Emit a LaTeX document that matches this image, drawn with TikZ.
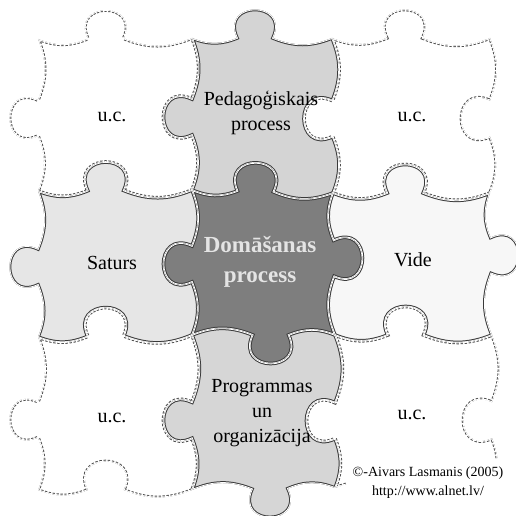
\documentclass[tikz,border=0pt]{standalone}
\usepackage{fontspec}
\setmainfont{Liberation Serif}
\usetikzlibrary{calc}
\definecolor{pzline}{HTML}{3A3A3A}
\definecolor{pzdash}{HTML}{505050}
\definecolor{fillPed}{HTML}{D4D4D4}
\definecolor{fillSat}{HTML}{E6E6E6}
\definecolor{fillCen}{HTML}{7E7E7E}
\definecolor{fillVid}{HTML}{F7F7F7}
\definecolor{fillPrg}{HTML}{D6D6D6}
\definecolor{txtCen}{HTML}{E4E4E4}
\def\sh{22}
\tikzset{
 eL/.style n args={3}{insert path={to[bend right=\sh] ($(#1)!#3!(#2)!18pt!(#1)$) to[out=115,in=65,relative,distance=42pt] ($(#1)!#3!(#2)!18pt!(#2)$) to[bend right=\sh] (#2)}},
 eR/.style n args={3}{insert path={to[bend left=\sh] ($(#1)!#3!(#2)!18pt!(#1)$) to[out=-115,in=-65,relative,distance=42pt] ($(#1)!#3!(#2)!18pt!(#2)$) to[bend left=\sh] (#2)}},
 eLr/.style n args={3}{insert path={to[bend left=\sh] ($(#1)!#3!(#2)!18pt!(#2)$) to[out=-115,in=-65,relative,distance=42pt] ($(#1)!#3!(#2)!18pt!(#1)$) to[bend left=\sh] (#1)}},
 eRr/.style n args={3}{insert path={to[bend right=\sh] ($(#1)!#3!(#2)!18pt!(#2)$) to[out=115,in=65,relative,distance=42pt] ($(#1)!#3!(#2)!18pt!(#1)$) to[bend right=\sh] (#1)}},
 solidline/.style={draw=pzline},
 dashline/.style={draw=pzdash, dash pattern=on 2.4pt off 1.6pt},
 lbl/.style={font=\fontsize{20}{25}\selectfont, align=center, text=black},
}
\newcommand\PzA{(c00) [eL={c00}{c10}{.44}] [eR={c10}{c11}{.52}] [eLr={c01}{c11}{.44}] [eRr={c00}{c01}{.52}] -- cycle}
\newcommand\PzB{(c10) [eL={c10}{c20}{.45}] [eR={c20}{c21}{.52}] [eLr={c11}{c21}{.45}] [eRr={c10}{c11}{.52}] -- cycle}
\newcommand\PzC{(c20) [eL={c20}{c30}{.46}] [eR={c30}{c31}{.52}] [eLr={c21}{c31}{.46}] [eRr={c20}{c21}{.52}] -- cycle}
\newcommand\PzD{(c01) [eL={c01}{c11}{.44}] [eR={c11}{c12}{.51}] [eLr={c02}{c12}{.44}] [eRr={c01}{c02}{.52}] -- cycle}
\newcommand\PzE{(c11) [eL={c11}{c21}{.45}] [eL={c21}{c22}{.46}] [eRr={c12}{c22}{.55}] [eRr={c11}{c12}{.51}] -- cycle}
\newcommand\PzF{(c21) [eL={c21}{c31}{.46}] [eL={c31}{c32}{.44}] [eLr={c22}{c32}{.45}] [eLr={c21}{c22}{.46}] -- cycle}
\newcommand\PzG{(c02) [eL={c02}{c12}{.44}] [eR={c12}{c13}{.55}] [eLr={c03}{c13}{.44}] [eRr={c02}{c03}{.54}] -- cycle}
\newcommand\PzH{(c12) [eR={c12}{c22}{.55}] [eR={c22}{c23}{.56}] [eRr={c13}{c23}{.545}] [eRr={c12}{c13}{.55}] -- cycle}
\newcommand\PzI{(c22) [eL={c22}{c32}{.45}] [eR={c32}{c33}{.55}] [eRr={c23}{c33}{.45}] [eRr={c22}{c23}{.56}] -- cycle}
\newcommand\PzDraw[3]{%
 \begin{scope}
 \clip #1;
 \fill[#2] #1;
 \path[#3, line width=3.6pt] #1;
 \draw[white, line width=1.6pt] #1;
 \end{scope}}
\begin{document}
\begin{tikzpicture}[x=1pt,y=1pt]
\useasboundingbox (0,0) rectangle (515,516);
\fill[white] (0,0) rectangle (515,516);
\coordinate (c00) at (38,477);
\coordinate (c10) at (192,478);
\coordinate (c20) at (332,478);
\coordinate (c30) at (490,478);
\coordinate (c01) at (38,325);
\coordinate (c11) at (192,326);
\coordinate (c21) at (333,323);
\coordinate (c31) at (490,323);
\coordinate (c02) at (38,179);
\coordinate (c12) at (192,181);
\coordinate (c22) at (335,181);
\coordinate (c32) at (492,181);
\coordinate (c03) at (38,26);
\coordinate (c13) at (192,26);
\coordinate (c23) at (335,28);
\coordinate (c33) at (492,26);
\PzDraw{\PzA}{white}{dashline}
\PzDraw{\PzB}{fillPed}{solidline}
\PzDraw{\PzC}{white}{dashline}
\PzDraw{\PzD}{fillSat}{solidline}
\PzDraw{\PzE}{fillCen}{solidline}
\PzDraw{\PzF}{fillVid}{solidline}
\PzDraw{\PzG}{white}{dashline}
\PzDraw{\PzH}{fillPrg}{solidline}
\PzDraw{\PzI}{white}{dashline}
\fill[white] (347,0) rectangle (515,57);
\node[lbl] (uc1) at (112,399) {u.c.};
\node[lbl] (ped) at (261,403) {Pedagoģiskais\\process};
\node[lbl] (uc2) at (412,399) {u.c.};
\node[lbl] (sat) at (112,253) {Saturs};
\node[font=\fontsize{23}{30}\selectfont\bfseries, align=center, text=txtCen] (dom) at (260,254) {Domāšanas\\process};
\node[lbl] (vid) at (413,256) {Vide};
\node[lbl] (uc3) at (112,98) {u.c.};
\node[lbl] (prg) at (262,103) {Programmas\\un\\organizācija};
\node[lbl] (uc4) at (412,101) {u.c.};
\node[font=\fontsize{14}{19}\selectfont, align=center] (copy) at (428,33) {©-Aivars Lasmanis (2005)\\http://www.alnet.lv/};
\end{tikzpicture}
\end{document}
